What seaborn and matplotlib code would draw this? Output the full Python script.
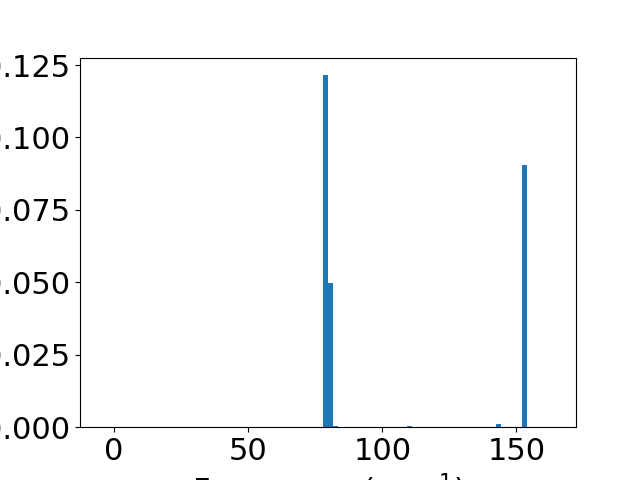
import numpy as np
import pandas as pd
import matplotlib
matplotlib.use('Agg')
import matplotlib.pyplot as plt
import seaborn as sns

# Histogram bin layout
bin_start = -4.3
bin_width = 1.955
n_bins = 86

# Non-empty bins: left edge index -> bar height (density)
bar_bins = [42, 43, 44, 58, 75, 80]
bar_heights = [0.1215, 0.0498, 0.0004, 0.0004, 0.0010, 0.0905]

edges = bin_start + bin_width * np.arange(n_bins + 1)
centers = (edges[:-1] + edges[1:]) / 2
heights = np.zeros(n_bins)
heights[bar_bins] = bar_heights

df = pd.DataFrame({'freq': centers, 'w': heights})

plt.rcParams['font.size'] = 22
fig, ax = plt.subplots(figsize=(6.4, 4.8), dpi=100)
sns.histplot(data=df, x='freq', weights='w', bins=edges.tolist(), ax=ax,
             color='#1f77b4', alpha=1, edgecolor='none', linewidth=0)
ax.set_xlabel('Frequency (cm$^{-1}$)')
ax.set_ylabel('')
ax.set_yticks([0, 0.025, 0.05, 0.075, 0.1, 0.125])
ax.set_xticks([0, 50, 100, 150])
ax.set_ylim(0, 0.1215 * 1.05)

fig.savefig('out.png', dpi=100)
